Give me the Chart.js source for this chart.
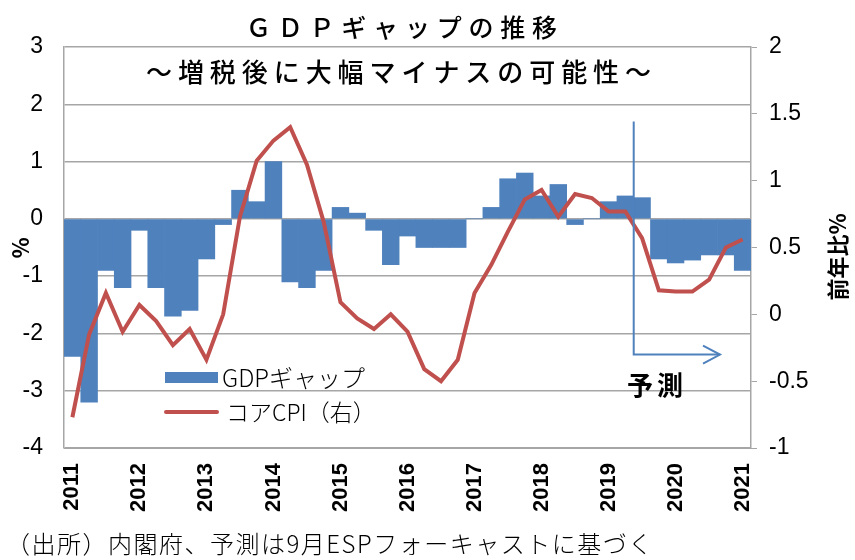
<!DOCTYPE html>
<html>
<head>
<meta charset="utf-8">
<script src="https://cdn.jsdelivr.net/npm/chart.js@4.4.0/dist/chart.umd.min.js"></script>
<style>
  html, body { margin: 0; padding: 0; background: #fff; }
  #wrap { width: 855px; height: 560px; }
</style>
</head>
<body>
<div id="wrap"><canvas id="gapChart" width="855" height="560"></canvas></div>
<script>
// 四半期（2011Q1〜2021Q1）
const quarters = [
  '2011Q1','2011Q2','2011Q3','2011Q4','2012Q1','2012Q2','2012Q3','2012Q4',
  '2013Q1','2013Q2','2013Q3','2013Q4','2014Q1','2014Q2','2014Q3','2014Q4',
  '2015Q1','2015Q2','2015Q3','2015Q4','2016Q1','2016Q2','2016Q3','2016Q4',
  '2017Q1','2017Q2','2017Q3','2017Q4','2018Q1','2018Q2','2018Q3','2018Q4',
  '2019Q1','2019Q2','2019Q3','2019Q4','2020Q1','2020Q2','2020Q3','2020Q4',
  '2021Q1'
];

// GDPギャップ（%、左軸）
const gdpGap = [
  -2.4, -3.2, -0.9, -1.2, -0.2, -1.2, -1.7, -1.6,
  -0.7, -0.1, 0.5, 0.3, 1.0, -1.1, -1.2, -0.9,
  0.2, 0.1, -0.2, -0.8, -0.3, -0.5, -0.5, -0.5,
  0.0, 0.2, 0.7, 0.8, 0.4, 0.6, -0.1, 0.0,
  0.3, 0.4, 0.37, -0.7, -0.77, -0.72, -0.63, -0.63,
  -0.9
];

// コアCPI（前年比%、右軸）
const coreCpi = [
  -0.77, -0.15, 0.16, -0.13, 0.07, -0.05, -0.23, -0.11,
  -0.34, 0.0, 0.73, 1.15, 1.30, 1.40, 1.12, 0.69,
  0.09, -0.03, -0.11, 0.0, -0.13, -0.41, -0.50, -0.34,
  0.16, 0.37, 0.62, 0.86, 0.93, 0.73, 0.90, 0.87,
  0.77, 0.77, 0.57, 0.18, 0.17, 0.17, 0.26, 0.50,
  0.56
];

// 目盛
const leftTicks = { min: -4, max: 3, step: 1 };
const rightTicks = { min: -1, max: 2, step: 0.5 };

const BLUE = '#4F81BD';
const RED = '#C0504D';
const GRID = '#a6a6a6';
const JP = "'Noto Sans CJK JP', 'Noto Sans CJK SC', sans-serif";

// 文字を指定幅に均等配置
function drawSpaced(ctx, text, x0, x1, y) {
  const chars = Array.from(text);
  const widths = chars.map(c => ctx.measureText(c).width);
  const total = widths.reduce((a, b) => a + b, 0);
  const gap = chars.length > 1 ? (x1 - x0 - total) / (chars.length - 1) : 0;
  let x = x0;
  ctx.textAlign = 'left';
  chars.forEach((c, i) => {
    ctx.fillText(c, x, y);
    x += widths[i] + gap;
  });
}

const decorPlugin = {
  id: 'decor',
  afterDatasetsDraw(chart) {
    const ctx = chart.ctx;
    const xs = chart.scales.x;
    const ys = chart.scales.y;
    // 予測の区切り線と矢印
    const xLine = (xs.getPixelForValue(33) + xs.getPixelForValue(34)) / 2;
    const yTop = ys.getPixelForValue(1.7);
    const yArr = ys.getPixelForValue(-2.37);
    const xEnd = xs.getPixelForValue(38.65);
    ctx.save();
    ctx.strokeStyle = BLUE;
    ctx.lineWidth = 2;
    ctx.beginPath();
    ctx.moveTo(xLine, yTop);
    ctx.lineTo(xLine, yArr);
    ctx.lineTo(xEnd, yArr);
    ctx.stroke();
    ctx.beginPath();
    ctx.moveTo(xEnd - 17, yArr - 9);
    ctx.lineTo(xEnd, yArr);
    ctx.lineTo(xEnd - 17, yArr + 9);
    ctx.stroke();
    ctx.restore();
  },
  afterDraw(chart) {
    const ctx = chart.ctx;
    ctx.save();
    ctx.fillStyle = '#000';
    ctx.textBaseline = 'middle';

    // タイトル
    ctx.font = '500 25px ' + JP;
    drawSpaced(ctx, 'ＧＤＰギャップの推移', 246, 557, 27);
    ctx.font = '500 26px ' + JP;
    drawSpaced(ctx, '～増税後に大幅マイナスの可能性～', 146, 651, 72);

    // 予測
    ctx.font = 'bold 26px ' + JP;
    drawSpaced(ctx, '予測', 627, 683, 385);

    // 凡例
    const ds = chart.data.datasets;
    ctx.fillStyle = ds[1].backgroundColor;
    ctx.fillRect(165, 372, 53, 11);
    ctx.strokeStyle = ds[0].borderColor;
    ctx.lineWidth = 4;
    ctx.lineCap = 'round';
    ctx.beginPath();
    ctx.moveTo(166, 412);
    ctx.lineTo(217, 412);
    ctx.stroke();
    ctx.fillStyle = '#000';
    ctx.textAlign = 'left';
    ctx.font = '300 24px ' + JP;
    ctx.fillText(ds[1].label, 222, 378);
    ctx.font = '300 23px ' + JP;
    ctx.fillText(ds[0].label, 226, 412);

    // 軸タイトル
    ctx.font = 'bold 22px ' + JP;
    ctx.save();
    ctx.translate(21, 248);
    ctx.rotate(-Math.PI / 2);
    ctx.textAlign = 'center';
    ctx.fillText('%', 0, 0);
    ctx.restore();

    ctx.font = 'bold 22px ' + JP;
    ctx.save();
    ctx.translate(838, 257);
    ctx.rotate(-Math.PI / 2);
    ctx.textAlign = 'center';
    ctx.fillText('前年比%', 0, 0);
    ctx.restore();

    // 出所
    ctx.font = '300 24px ' + JP;
    ctx.textAlign = 'left';
    ctx.letterSpacing = '1.5px';
    ctx.fillText('（出所）内閣府、予測は9月ESPフォーキャストに基づく', 6, 544);
    ctx.letterSpacing = '0px';
    ctx.restore();
  }
};

function initGapChart() {
  const ctx = document.getElementById('gapChart').getContext('2d');
  new Chart(ctx, {
    data: {
      labels: quarters,
      datasets: [
        {
          type: 'line',
          label: 'コアCPI（右）',
          data: coreCpi,
          yAxisID: 'y1',
          borderColor: RED,
          borderWidth: 4,
          pointRadius: 0,
          tension: 0,
          order: 0
        },
        {
          type: 'bar',
          label: 'GDPギャップ',
          data: gdpGap,
          yAxisID: 'y',
          backgroundColor: BLUE,
          borderWidth: 0,
          barPercentage: 1.0,
          categoryPercentage: 1.0,
          order: 1
        }
      ]
    },
    options: {
      responsive: false,
      animation: false,
      layout: { padding: { top: 47, left: 0, right: 0, bottom: 0 } },
      plugins: {
        legend: { display: false },
        tooltip: { enabled: false }
      },
      scales: {
        x: {
          offset: true,
          afterFit: s => { s.height = 112; },
          grid: { display: false, drawTicks: false },
          border: { color: GRID },
          ticks: {
            autoSkip: false,
            maxRotation: 90,
            minRotation: 90,
            padding: 15,
            color: '#000',
            font: { size: 22, weight: 'bold', family: "'Liberation Sans', Arial, sans-serif" },
            callback: function (v) {
              const q = quarters[v];
              return q.endsWith('Q1') ? q.slice(0, 4) : '';
            }
          }
        },
        y: {
          position: 'left',
          min: leftTicks.min,
          max: leftTicks.max,
          afterFit: s => { s.width = 64; },
          grid: { color: GRID, lineWidth: 1.5, drawTicks: false },
          border: { color: GRID, width: 1.5 },
          ticks: {
            stepSize: leftTicks.step,
            padding: 21,
            color: '#000',
            font: { size: 23, family: "'Liberation Sans', Arial, sans-serif" },
            callback: v => String(v)
          }
        },
        y1: {
          position: 'right',
          min: rightTicks.min,
          max: rightTicks.max,
          afterFit: s => { s.width = 104; },
          grid: { drawOnChartArea: false, color: GRID, tickLength: 6 },
          border: { color: GRID, width: 1.5 },
          ticks: {
            stepSize: rightTicks.step,
            padding: 12,
            color: '#000',
            font: { size: 23, family: "'Liberation Sans', Arial, sans-serif" },
            callback: v => String(v)
          }
        }
      }
    },
    plugins: [decorPlugin]
  });
}

document.addEventListener('DOMContentLoaded', initGapChart);
</script>
</body>
</html>
